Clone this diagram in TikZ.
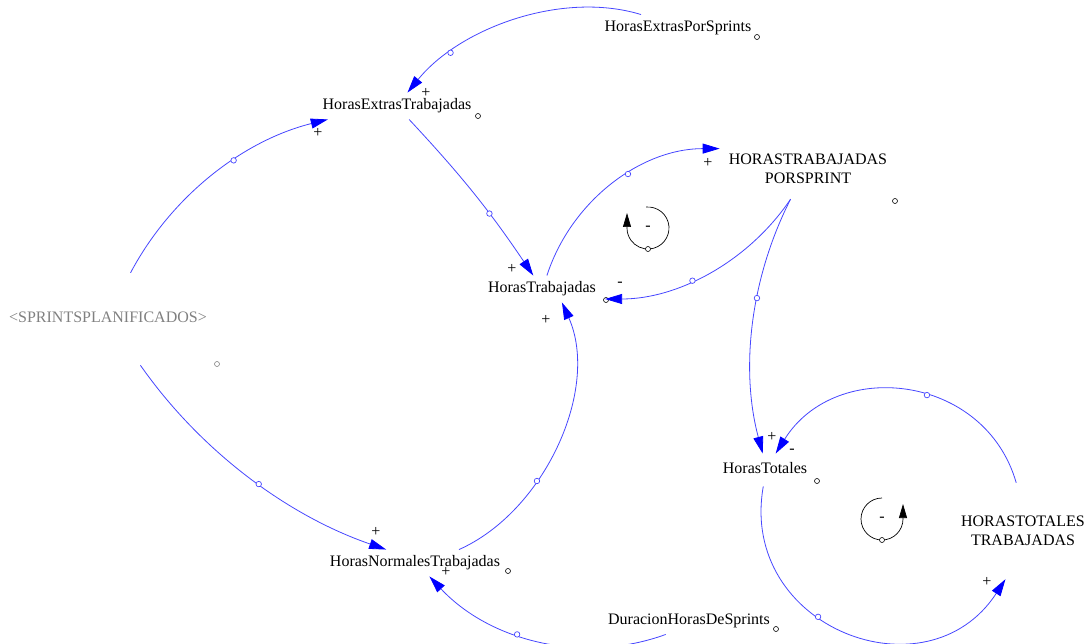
\documentclass[tikz,border=0pt]{standalone}
\usepackage{fontspec}
\setmainfont{Liberation Serif}
\usetikzlibrary{arrows.meta}

\definecolor{linkblue}{RGB}{70,70,255}
\definecolor{shadowgray}{RGB}{128,128,128}

\tikzset{
	var/.style={font=\fontsize{16}{19}\selectfont, inner xsep=9pt, inner ysep=6pt, text height=11pt, text depth=3.5pt},
	varml/.style={font=\fontsize{16}{19}\selectfont, inner xsep=9pt, align=center},
	shadowvar/.style={var, text=shadowgray, minimum height=92pt},
	link/.style={draw=linkblue, line width=0.8pt, -{Triangle[length=17pt,width=10pt,color=blue]}},
	mk/.style={circle, draw=linkblue, fill=white, inner sep=0pt, minimum size=5.5pt, line width=0.7pt},
	handle/.style={circle, draw=black, fill=white, inner sep=0pt, minimum size=5pt, line width=0.6pt},
	sign/.style={font=\fontsize{16}{19}\selectfont, inner sep=0pt},
	loopline/.style={draw=black, line width=0.7pt, -{Triangle[length=14pt,width=8pt]}}
}

\begin{document}
\begin{tikzpicture}[x=1pt,y=1pt]
	\useasboundingbox (0,0) rectangle (1090,-644);

	% nodes
	\node[var] (heps) at (678,-28) {HorasExtrasPorSprints};%
	\node[var] (het) at (397,-106) {HorasExtrasTrabajadas};%
	\node[varml,minimum height=60pt] (htps) at (808,-169) {HORASTRABAJADAS\\PORSPRINT};%
	\node[var] (ht) at (542,-289) {HorasTrabajadas};%
	\node[shadowvar] (spl) at (108,-319) {\textless SPRINTSPLANIFICADOS\textgreater};%
	\node[var,inner ysep=9pt] (hto) at (765,-470) {HorasTotales};%
	\node[varml,minimum height=96pt] (htt) at (1023,-531) {HORASTOTALES\\TRABAJADAS};%
	\node[var] (hnt) at (415,-563) {HorasNormalesTrabajadas};%
	\node[var] (dhs) at (689,-621) {DuracionHorasDeSprints};%

	% handles
	\node[handle] (heps-o) at (757,-37) {};%
	\node[handle] (het-o) at (478,-116) {};%
	\node[handle] (htps-o) at (895,-201) {};%
	\node[handle] (ht-o) at (606,-300) {};%
	\node[handle,draw=shadowgray] (spl-o) at (217,-364) {};%
	\node[handle] (hto-o) at (817,-481) {};%
	\node[handle] (hnt-o) at (508,-571) {};%
	\node[handle] (dhs-o) at (776,-629) {};%

	% edges
	\draw[link] (heps.160) to[out=163,in=51,looseness=0.86] node[mk,pos=0.77] (m1) {} (het.52);
	\draw[link] (spl.64) to[out=62,in=194,looseness=0.89] node[mk,pos=0.6] (m2) {} (het.191);
	\draw[link] (het.-48) to[out=-47,in=124] node[mk,pos=0.63] (m3) {} (ht.123);
	\draw[link] (ht.70) to[out=72,in=180,looseness=0.94] node[mk,pos=0.58] (m4) {} (htps.167);
	\draw[link] (htps.-120) to[out=236,in=0,looseness=0.9] node[mk,pos=0.59] (m5) {} (ht.-9);
	\draw[link] (htps.-120) to[out=243,in=105,looseness=0.88] node[mk,pos=0.4] (m6) {} (hto.98);
	\draw[link] (htt.98) to[out=106,in=58,looseness=1.2] node[mk,pos=0.43] (m7) {} (hto.57);
	\draw[link] (hto.-96) to[out=260,in=237,looseness=1.42] node[mk,pos=0.41] (m8) {} (htt.-110);
	\draw[link] (spl.-55) to[out=-55,in=161,looseness=0.87] node[mk,pos=0.54] (m9) {} (hnt.155);
	\draw[link] (hnt.17) to[out=24,in=-66,looseness=0.9] node[mk,pos=0.36] (m10) {} (ht.-34);
	\draw[link] (dhs.-150) to[out=200,in=-47,looseness=0.93] node[mk,pos=0.59] (m11) {} (hnt.-43);

	% polarities
	\node[sign] (s1) at (426,-93) {+};%
	\node[sign] (s2) at (318,-133) {+};%
	\node[sign] (s3) at (512,-269) {+};%
	\node[sign] (s4) at (708,-163) {+};%
	\node[sign] (s5) at (620,-284) {-};%
	\node[sign] (s6) at (772,-437) {+};%
	\node[sign] (s7) at (792,-451) {-};%
	\node[sign] (s8) at (987,-582) {+};%
	\node[sign] (s9) at (376,-532) {+};%
	\node[sign] (s10) at (546,-320) {+};%
	\node[sign] (s11) at (446,-572) {+};%

	% loops
	\coordinate (lp1) at (648,-228);
	\draw[loopline] (lp1) ++(95:21) arc[start angle=95,end angle=-180,radius=21] -- ++(0,15);
	\node[handle] (lp1-o) at ([yshift=-21pt]lp1) {};%
	\node[sign] (lp1-s) at (lp1) {-};%

	\coordinate (lp2) at (882,-519);
	\draw[loopline] (lp2) ++(90:21) arc[start angle=90,end angle=360,radius=21] -- ++(0,15);
	\node[handle] (lp2-o) at ([yshift=-21pt]lp2) {};%
	\node[sign] (lp2-s) at (lp2) {-};%
\end{tikzpicture}
\end{document}
